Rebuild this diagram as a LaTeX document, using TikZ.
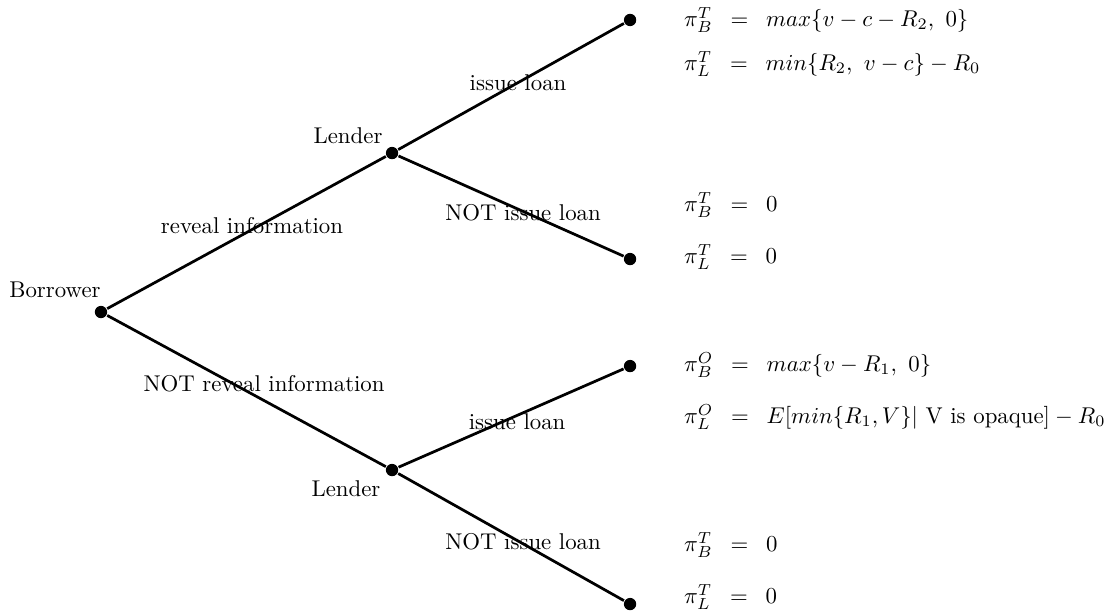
\documentclass[tikz,border=0pt]{standalone}
\usepackage{amsmath,amssymb}
\usepackage{tikz}
\usetikzlibrary{positioning}

\newcommand{\eqsp}{\hspace{5pt}=\hspace{5pt}}

\begin{document}
\begin{tikzpicture}[thick,>=latex,
    dot/.style={circle,fill=black,inner sep=0pt,minimum size=0.19cm},
    branch/.style={line width=1.2pt},
    payoff/.style={anchor=west,inner sep=0pt}]

    \useasboundingbox (0,0) rectangle (17.20,9.456);

    % Decision nodes
    \node[dot] (borrower) at (1.555,4.651) {};
    \node[dot] (lendT) at (6.037,7.099) {};
    \node[dot] (lendB) at (6.037,2.218) {};

    % End nodes
    \node[dot] (endA) at (9.702,9.148) {};
    \node[dot] (endB) at (9.702,5.467) {};
    \node[dot] (endC) at (9.702,3.819) {};
    \node[dot] (endD) at (9.702,0.154) {};

    % Branches
    \draw[branch] (borrower) -- (lendT);
    \draw[branch] (borrower) -- (lendB);
    \draw[branch] (lendT) -- (endA);
    \draw[branch] (lendT) -- (endB);
    \draw[branch] (lendB) -- (endC);
    \draw[branch] (lendB) -- (endD);

    % Player names
    \node (nameB) at (0.847,4.99) {Borrower};
    \node (nameLT) at (5.359,7.361) {Lender};
    \node (nameLB) at (5.328,1.925) {Lender};

    % Actions
    \node (revl) at (3.881,5.975) {reveal information};
    \node (norevl) at (4.066,3.547) {NOT reveal information};
    \node (issT) at (7.977,8.178) {issue loan};
    \node (noissT) at (8.054,6.176) {NOT issue loan};
    \node (issB) at (7.962,2.957) {issue loan};
    \node (noissB) at (8.054,1.108) {NOT issue loan};

    % Payoffs
    \node[payoff] (payA1) at (10.52,9.148) {$\pi_B^T \eqsp max\{v-c-R_2,\ 0\}$};
    \node[payoff] (payA2) at (10.52,8.47) {$\pi_L^T \eqsp min\{R_2,\ v-c\}-R_0$};
    \node[payoff] (payB1) at (10.52,6.30) {$\pi_B^T \eqsp 0$};
    \node[payoff] (payB2) at (10.52,5.498) {$\pi_L^T \eqsp 0$};
    \node[payoff] (payC1) at (10.52,3.835) {$\pi_B^O \eqsp max\{v-R_1,\ 0\}$};
    \node[payoff] (payC2) at (10.52,3.034) {$\pi_L^O \eqsp E[min\{R_1,V\}|\text{ V is opaque}]-R_0$};
    \node[payoff] (payD1) at (10.52,1.063) {$\pi_B^T \eqsp 0$};
    \node[payoff] (payD2) at (10.52,0.262) {$\pi_L^T \eqsp 0$};

\end{tikzpicture}
\end{document}
